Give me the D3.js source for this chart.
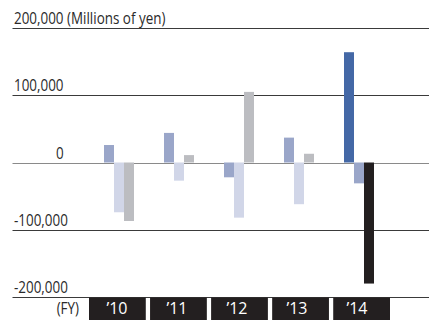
<!DOCTYPE html>
<html>
<head>
<meta charset="utf-8">
<script src="https://cdn.jsdelivr.net/npm/d3@7"></script>
<style>
  html, body { margin: 0; padding: 0; background: #fff; }
  svg { display: block; }
  text { font-family: "Open Sans", "Noto Sans", sans-serif; }
</style>
</head>
<body>
<svg id="chart" width="429" height="320"></svg>
<script>
// Fiscal years and the three series (millions of yen)
const years = ["\u201910", "\u201911", "\u201912", "\u201913", "\u201914"];
const seriesA = [26000, 44000, -22000, 37000, 164000];
const seriesB = [-74000, -27000, -82000, -62000, -31000];
const seriesC = [-87000, 11000, 105000, 13000, -180000];
const yTicks = [200000, 100000, 0, -100000, -200000];

// Regular colours per series, and emphasised colours for the latest year
const colors = ["#9aa6c9", "#d1d6e8", "#bcbdc1"];
const latestColors = ["#4468a6", "#9aa6c9", "#231f20"];

const svg = d3.select("#chart");
const W = 429;
const SQUEEZE = 0.84; // condensed look for the value labels

const y = d3.scaleLinear().domain([-200000, 200000]).range([297, 28]);
const xGroup = d3.scaleBand().domain(years).range([89, 389]).padding(0);
const xBox = d3.scaleBand().domain(years).range([89, 390]).paddingInner(0.07).paddingOuter(0);
const xSub = d3.scaleBand().domain([0, 1, 2]).range([0, 30]);

const fmt = d3.formatLocale({ decimal: ".", thousands: ",", grouping: [3], currency: ["", ""], minus: "-" }).format(",");

// Horizontal grid lines
svg.append("g").selectAll("line")
  .data(yTicks)
  .join("line")
  .attr("x1", 12.5).attr("x2", W)
  .attr("y1", d => Math.round(y(d)) + 0.5)
  .attr("y2", d => Math.round(y(d)) + 0.5)
  .attr("stroke", d => d === 0 ? "#8a8a8a" : "#3a3a3a")
  .attr("stroke-width", 1);

// Tick labels
svg.append("g").selectAll("text")
  .data(yTicks)
  .join("text")
  .attr("transform", d => `translate(${d === 0 ? 56 : 14},${Math.round(y(d)) - 4}) scale(${SQUEEZE},1)`)
  .attr("font-size", 16)
  .attr("fill", "#2a2a2a")
  .text(d => d === 200000 ? fmt(d) + " (Millions of yen)" : fmt(d));

// Bars
const rows = years.map((yr, i) => ({ year: yr, i, vals: [seriesA[i], seriesB[i], seriesC[i]] }));
const groups = svg.append("g").selectAll("g")
  .data(rows)
  .join("g")
  .attr("transform", d => `translate(${xGroup(d.year) + xGroup.bandwidth() / 2 - 15},0)`);

groups.selectAll("rect")
  .data(d => d.vals.map((v, k) => ({ v, k, latest: d.i === years.length - 1 })))
  .join("rect")
  .attr("x", d => xSub(d.k))
  .attr("width", xSub.bandwidth())
  .attr("y", d => Math.min(y(d.v), y(0)))
  .attr("height", d => Math.abs(y(d.v) - y(0)))
  .attr("fill", d => d.latest ? latestColors[d.k] : colors[d.k]);

// Fiscal-year axis: dark boxes with white labels
const axis = svg.append("g");
axis.selectAll("rect")
  .data(years)
  .join("rect")
  .attr("x", d => xBox(d))
  .attr("y", 297.5)
  .attr("width", xBox.bandwidth())
  .attr("height", 23)
  .attr("fill", "#231f20");

axis.selectAll("text")
  .data(years)
  .join("text")
  .attr("x", d => xGroup(d) + xGroup.bandwidth() / 2 - 2)
  .attr("y", 314)
  .attr("text-anchor", "middle")
  .attr("font-size", 16)
  .attr("fill", "#fff")
  .text(d => d);

svg.append("text")
  .attr("transform", `translate(79,314) scale(${SQUEEZE},1)`)
  .attr("text-anchor", "end")
  .attr("font-size", 16)
  .attr("fill", "#2a2a2a")
  .text("(FY)");
</script>
</body>
</html>
